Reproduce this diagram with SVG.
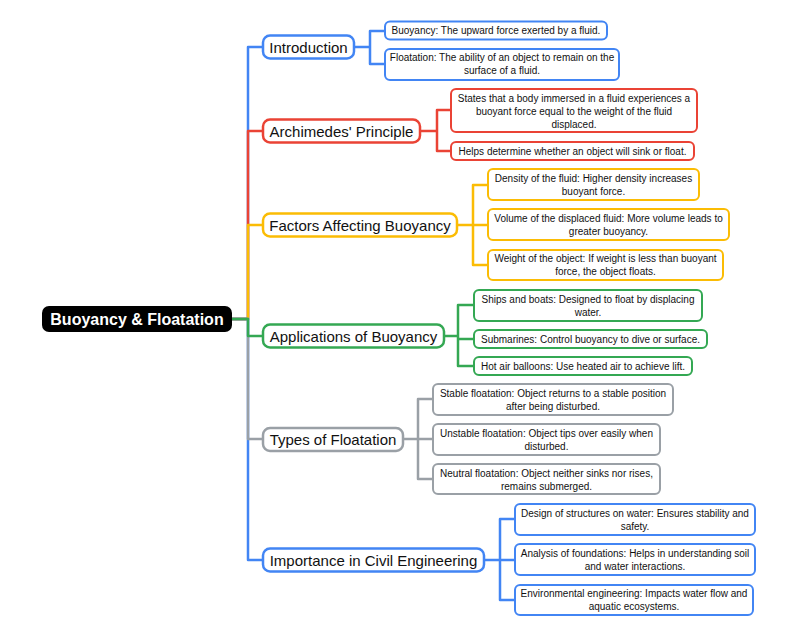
<svg xmlns="http://www.w3.org/2000/svg" width="800" height="638" viewBox="0 0 800 638">
<style>
text{font-family:"Liberation Sans",Arial,sans-serif;fill:#111}
.b{font-size:15px}
.l{font-size:10px}
.r{font-size:16px;font-weight:bold;fill:#fff}
.bn{fill:#fff;stroke-width:2.5}
.ln{fill:#fff;stroke-width:2}
.c{fill:none;stroke-width:2.5;stroke-linejoin:round}
.blue{stroke:#4285F4}.red{stroke:#EA4335}.yel{stroke:#FBBC04}.grn{stroke:#34A853}.gry{stroke:#9AA0A6}
</style>
<rect width="800" height="638" fill="#fff"/>
<g id="connectors">
<path class="c blue" d="M232,319H248V47H263"/>
<path class="c red" d="M232,319H248V131H263"/>
<path class="c yel" d="M232,319H248V225H263"/>
<path class="c blue" d="M232,319H248V560H263"/>
<path class="c gry" d="M232,319H248V439H263"/>
<path class="c grn" d="M232,319H248V336H263"/>
<path class="c blue" d="M354,47H370V31H385M370,47V64H385"/>
<path class="c red" d="M420,131H437V110H451M437,131V151H451"/>
<path class="c yel" d="M457,225H473V185H488M473,225H488M473,225V265H488"/>
<path class="c grn" d="M444,336H458V305H474M458,336V339H474M458,336V366H474"/>
<path class="c gry" d="M403,439H418V399H433M418,439H433M418,439V479H433"/>
<path class="c blue" d="M484,560H500V519H515M500,560H515M500,560V600H515"/>
</g>
<g id="root">
<rect x="42" y="306" width="190" height="26" rx="7" fill="#000"/>
<text class="r" x="137" y="325" text-anchor="middle">Buoyancy &amp; Floatation</text>
</g>
<g id="intro">
<rect class="bn blue" x="263" y="35.5" width="91" height="23" rx="7"/>
<text class="b" x="308.5" y="52.5" text-anchor="middle">Introduction</text>
</g>
<g id="intro-1">
<rect class="ln blue" x="385" y="21.5" width="222" height="18" rx="5"/>
<text class="l" x="496" y="34" text-anchor="middle">Buoyancy: The upward force exerted by a fluid.</text>
</g>
<g id="intro-2">
<rect class="ln blue" x="385" y="49" width="234" height="31" rx="5"/>
<text class="l" x="502" y="61" text-anchor="middle">Floatation: The ability of an object to remain on the</text>
<text class="l" x="502" y="74" text-anchor="middle">surface of a fluid.</text>
</g>
<g id="arch">
<rect class="bn red" x="263" y="119.5" width="157" height="23" rx="7"/>
<text class="b" x="341.5" y="136.5" text-anchor="middle">Archimedes' Principle</text>
</g>
<g id="arch-1">
<rect class="ln red" x="451" y="89" width="246" height="43" rx="5"/>
<text class="l" x="574" y="102" text-anchor="middle">States that a body immersed in a fluid experiences a</text>
<text class="l" x="574" y="115" text-anchor="middle">buoyant force equal to the weight of the fluid</text>
<text class="l" x="574" y="128" text-anchor="middle">displaced.</text>
</g>
<g id="arch-2">
<rect class="ln red" x="451" y="142" width="243" height="18" rx="5"/>
<text class="l" x="572.5" y="154.5" text-anchor="middle">Helps determine whether an object will sink or float.</text>
</g>
<g id="factors">
<rect class="bn yel" x="263" y="213.5" width="194" height="23" rx="7"/>
<text class="b" x="360" y="230.5" text-anchor="middle">Factors Affecting Buoyancy</text>
</g>
<g id="factors-1">
<rect class="ln yel" x="488" y="169" width="211" height="31" rx="5"/>
<text class="l" x="593.5" y="181.5" text-anchor="middle">Density of the fluid: Higher density increases</text>
<text class="l" x="593.5" y="194.5" text-anchor="middle">buoyant force.</text>
</g>
<g id="factors-2">
<rect class="ln yel" x="488" y="209" width="241" height="31" rx="5"/>
<text class="l" x="608.5" y="221.5" text-anchor="middle">Volume of the displaced fluid: More volume leads to</text>
<text class="l" x="608.5" y="234.5" text-anchor="middle">greater buoyancy.</text>
</g>
<g id="factors-3">
<rect class="ln yel" x="488" y="250" width="235" height="30" rx="5"/>
<text class="l" x="605.5" y="261.5" text-anchor="middle">Weight of the object: If weight is less than buoyant</text>
<text class="l" x="605.5" y="274.5" text-anchor="middle">force, the object floats.</text>
</g>
<g id="apps">
<rect class="bn grn" x="263" y="324.5" width="181" height="23" rx="7"/>
<text class="b" x="353.5" y="341.5" text-anchor="middle">Applications of Buoyancy</text>
</g>
<g id="apps-1">
<rect class="ln grn" x="474" y="290" width="228" height="31" rx="5"/>
<text class="l" x="588" y="302.5" text-anchor="middle">Ships and boats: Designed to float by displacing</text>
<text class="l" x="588" y="315.5" text-anchor="middle">water.</text>
</g>
<g id="apps-2">
<rect class="ln grn" x="474" y="330" width="233" height="18" rx="5"/>
<text class="l" x="590.5" y="342.5" text-anchor="middle">Submarines: Control buoyancy to dive or surface.</text>
</g>
<g id="apps-3">
<rect class="ln grn" x="474" y="357" width="218" height="18" rx="5"/>
<text class="l" x="583" y="369.5" text-anchor="middle">Hot air balloons: Use heated air to achieve lift.</text>
</g>
<g id="types">
<rect class="bn gry" x="263" y="428" width="140" height="23" rx="7"/>
<text class="b" x="333" y="445" text-anchor="middle">Types of Floatation</text>
</g>
<g id="types-1">
<rect class="ln gry" x="433" y="384" width="240" height="31" rx="5"/>
<text class="l" x="553" y="396.5" text-anchor="middle">Stable floatation: Object returns to a stable position</text>
<text class="l" x="553" y="409.5" text-anchor="middle">after being disturbed.</text>
</g>
<g id="types-2">
<rect class="ln gry" x="433" y="424" width="227" height="31" rx="5"/>
<text class="l" x="546.5" y="436.5" text-anchor="middle">Unstable floatation: Object tips over easily when</text>
<text class="l" x="546.5" y="449.5" text-anchor="middle">disturbed.</text>
</g>
<g id="types-3">
<rect class="ln gry" x="433" y="464" width="227" height="30" rx="5"/>
<text class="l" x="546.5" y="476.5" text-anchor="middle">Neutral floatation: Object neither sinks nor rises,</text>
<text class="l" x="546.5" y="489.5" text-anchor="middle">remains submerged.</text>
</g>
<g id="importance">
<rect class="bn blue" x="263" y="548.5" width="221" height="23" rx="7"/>
<text class="b" x="373.5" y="565.5" text-anchor="middle">Importance in Civil Engineering</text>
</g>
<g id="importance-1">
<rect class="ln blue" x="515" y="504" width="240" height="31" rx="5"/>
<text class="l" x="635" y="516.5" text-anchor="middle">Design of structures on water: Ensures stability and</text>
<text class="l" x="635" y="529.5" text-anchor="middle">safety.</text>
</g>
<g id="importance-2">
<rect class="ln blue" x="515" y="544" width="240" height="31" rx="5"/>
<text class="l" x="635" y="556.5" text-anchor="middle">Analysis of foundations: Helps in understanding soil</text>
<text class="l" x="635" y="569.5" text-anchor="middle">and water interactions.</text>
</g>
<g id="importance-3">
<rect class="ln blue" x="515" y="585" width="238" height="30" rx="5"/>
<text class="l" x="634" y="596.5" text-anchor="middle">Environmental engineering: Impacts water flow and</text>
<text class="l" x="634" y="609.5" text-anchor="middle">aquatic ecosystems.</text>
</g>
</svg>
